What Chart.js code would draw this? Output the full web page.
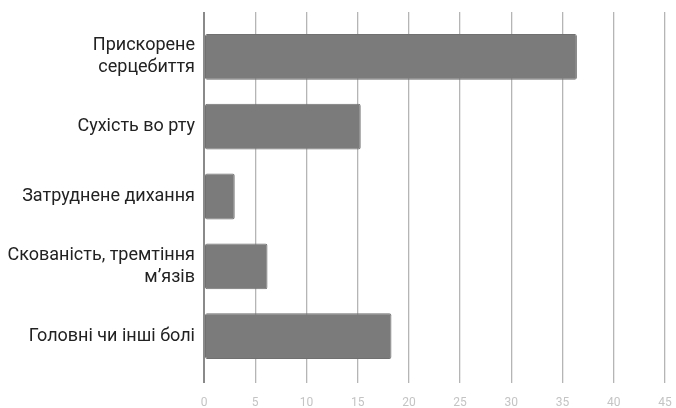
<!DOCTYPE html>
<html>
<head>
<meta charset="utf-8">
<script src="https://cdn.jsdelivr.net/npm/chart.js@4"></script>
<style>
    html, body { margin: 0; padding: 0; background: #fff; }
    #wrap { width: 676px; height: 408px; }
</style>
</head>
<body>
<div id="wrap"><canvas id="chart"></canvas></div>
<script>
// Симптоми та значення
const symptoms = [
    ['Прискорене', 'серцебиття'],
    'Сухість во рту',
    'Затруднене дихання',
    ['Скованість, тремтіння', 'мʼязів'],
    'Головні чи інші болі'
];
const values = [36.4, 15.3, 3.0, 6.2, 18.3];
const xTicks = [0, 5, 10, 15, 20, 25, 30, 35, 40, 45];

const gridColor = ctx => (ctx.tick && ctx.tick.value === 0) ? '#8a8a8a' : '#b5b5b5';
const gridWidth = ctx => (ctx.tick && ctx.tick.value === 0) ? 2 : 1.3;

new Chart(document.getElementById('chart'), {
    type: 'bar',
    data: {
        labels: symptoms,
        datasets: [{
            data: values,
            backgroundColor: '#7b7b7b',
            borderColor: '#707070',
            borderWidth: 1,
            borderRadius: 2,
            borderSkipped: false,
            categoryPercentage: 0.8,
            barPercentage: 0.82
        }]
    },
    options: {
        indexAxis: 'y',
        responsive: true,
        maintainAspectRatio: false,
        animation: false,
        layout: { padding: { top: 12, right: 0, bottom: 0, left: 0 } },
        plugins: {
            legend: { display: false },
            tooltip: { enabled: false }
        },
        scales: {
            x: {
                position: 'bottom',
                min: 0,
                max: 45,
                afterBuildTicks: scale => { scale.ticks = xTicks.map(v => ({ value: v })); },
                afterFit: scale => {
                    scale.height = 37;
                    // лише половина ширини останньої мітки справа
                    scale.paddingRight = 11;
                },
                border: { display: false },
                grid: { color: gridColor, lineWidth: gridWidth, tickLength: 12, drawTicks: true },
                ticks: {
                    color: '#c4c4c4',
                    padding: 13,
                    font: { family: 'Roboto', size: 12 }
                }
            },
            // верхня вісь лише подовжує лінії сітки над областю графіка
            xTop: {
                type: 'linear',
                position: 'top',
                min: 0,
                max: 45,
                afterBuildTicks: scale => { scale.ticks = xTicks.map(v => ({ value: v })); },
                afterFit: scale => { scale.paddingRight = 0; scale.paddingLeft = 0; },
                border: { display: false },
                grid: { color: gridColor, lineWidth: gridWidth, tickLength: 10, drawOnChartArea: false, drawTicks: true },
                ticks: { display: false }
            },
            y: {
                afterFit: scale => { scale.width = 204; },
                border: { display: false },
                grid: { display: false, drawTicks: false },
                ticks: {
                    color: '#222',
                    padding: 9,
                    font: { family: 'Roboto', size: 18, lineHeight: 1.22 }
                }
            }
        }
    }
});
</script>
</body>
</html>
